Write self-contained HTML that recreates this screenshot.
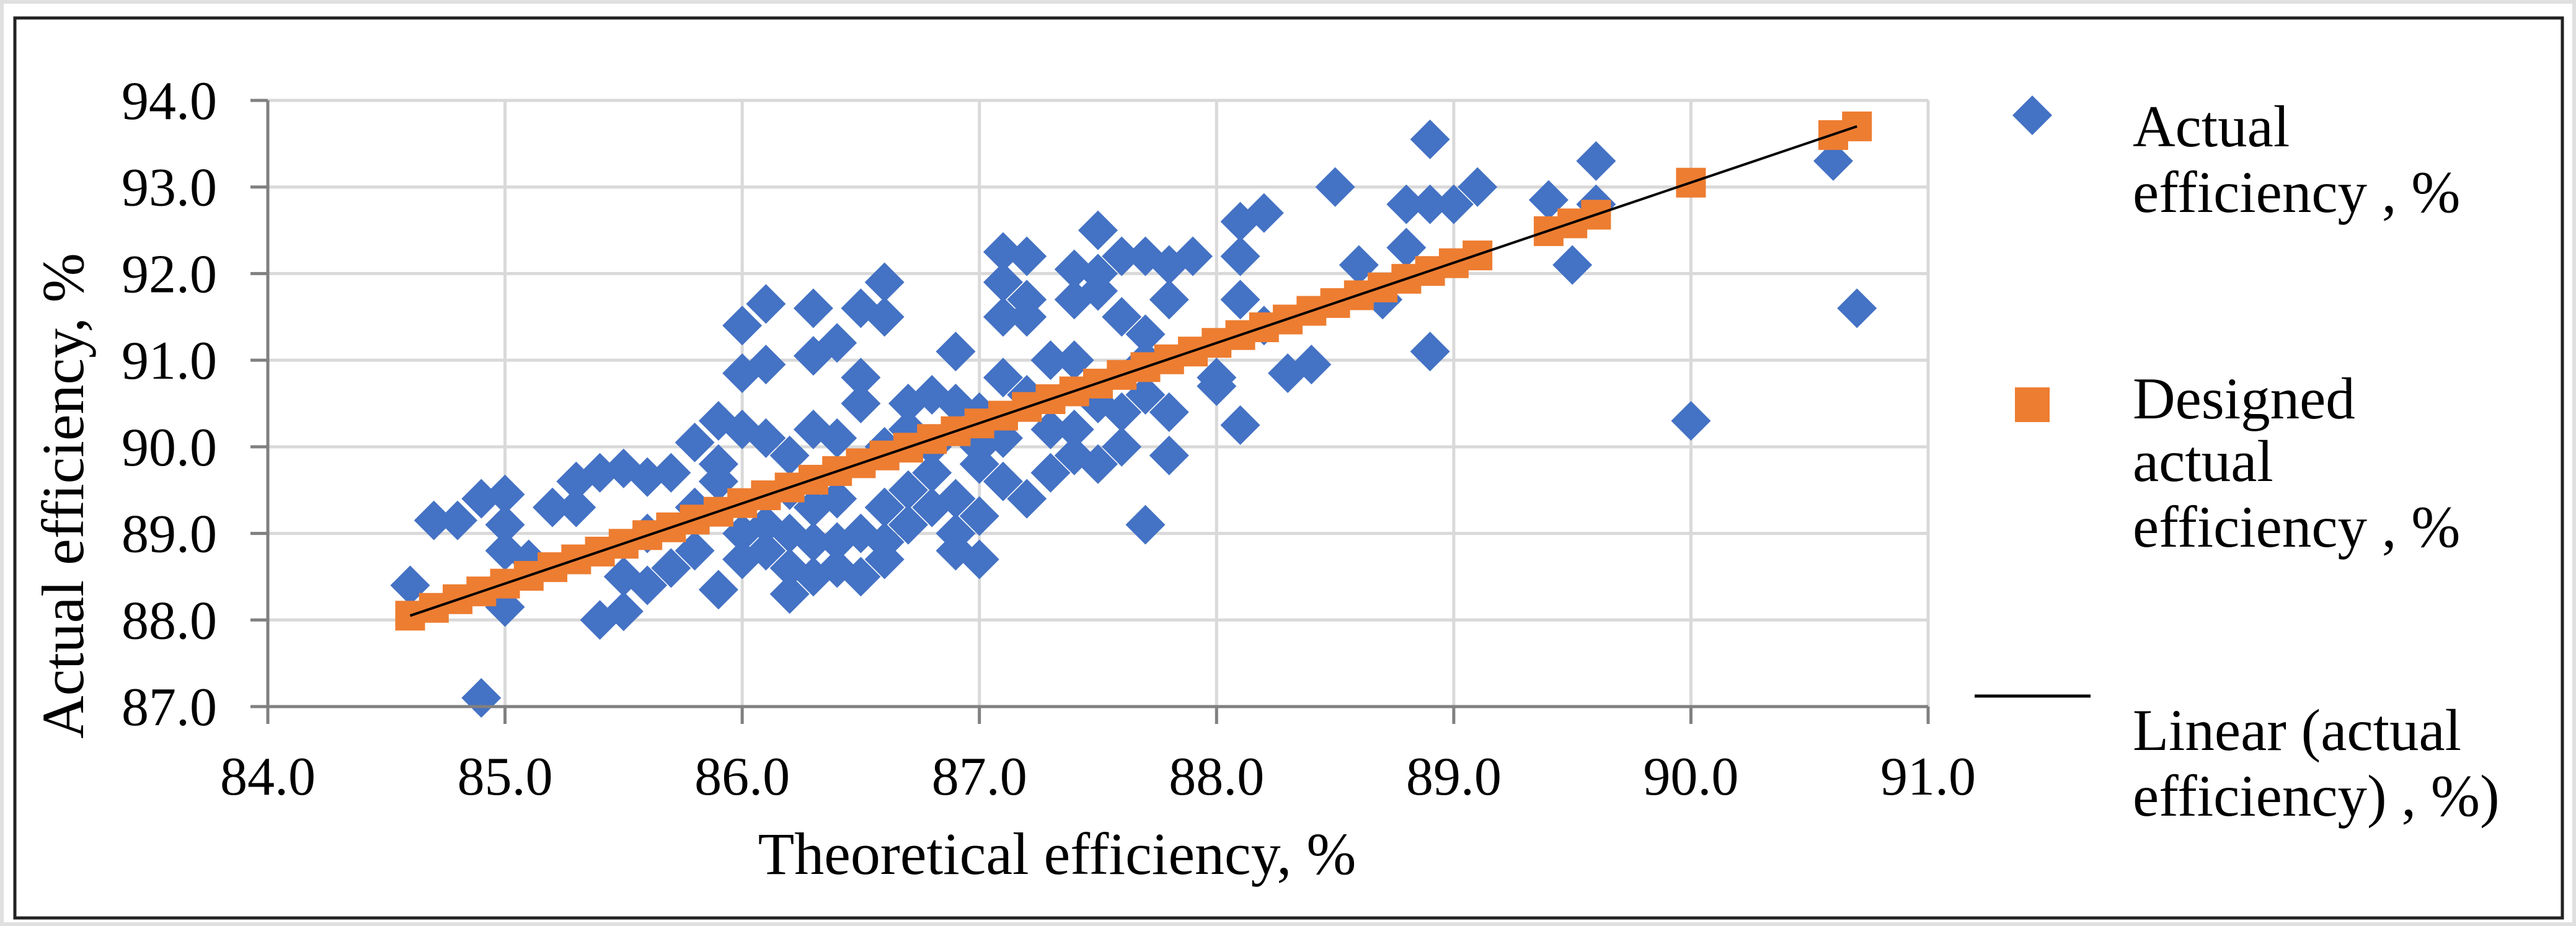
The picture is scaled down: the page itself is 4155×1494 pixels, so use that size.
<!DOCTYPE html>
<html><head><meta charset="utf-8"><style>
html,body{margin:0;padding:0;background:#fff;}
svg{display:block;font-family:"Liberation Serif",serif;}
</style></head><body>
<svg id="chart" width="4155" height="1494" viewBox="0 0 4155 1494">
<rect x="3" y="3" width="4149" height="1488" fill="#fff" stroke="#e0e0e0" stroke-width="6"/>
<rect x="24" y="29" width="4109" height="1452" fill="#fff" stroke="#222" stroke-width="5"/>
<g id="grid"></g>
<g id="marks"></g>
<g id="axes"></g>
<text x="1705" y="1410" font-size="96" text-anchor="middle">Theoretical efficiency, %</text>
<text transform="translate(134,800) rotate(-90)" font-size="96" text-anchor="middle">Actual efficiency, %</text>
<g>
<g>
<path d="M3278,154 L3310,186 L3278,218 L3246,186 Z" fill="#4472c4"/>
<text x="3440" y="236" font-size="95">Actual</text>
<text x="3440" y="342" font-size="95">efficiency , %</text>
</g>
<g>
<rect x="3250" y="625" width="56" height="56" fill="#ed7d31"/>
<text x="3440" y="675" font-size="95">Designed</text>
<text x="3440" y="776" font-size="95">actual</text>
<text x="3440" y="882" font-size="95">efficiency , %</text>
</g>
<g>
<line x1="3185" y1="1123" x2="3372" y2="1123" stroke="#000" stroke-width="5"/>
<text x="3440" y="1210" font-size="95">Linear (actual</text>
<text x="3440" y="1316" font-size="95">efficiency) , %)</text>
</g>
</g>
</svg>
<script>
const xTicks=[84,85,86,87,88,89,90,91];
const yTicks=[87,88,89,90,91,92,93,94];
const actualX=[84.6,84.7,84.8,84.9,84.9,85.0,85.0,85.0,85.0,85.1,85.2,85.3,85.3,85.4,85.4,85.5,85.5,85.5,85.6,85.6,85.7,85.7,85.8,85.8,85.9,85.9,85.9,86.0,86.0,86.0,86.0,86.0,86.1,86.1,86.1,86.1,86.2,86.2,86.2,86.3,86.3,86.3,86.3,86.3,86.4,86.4,86.4,86.4,86.5,86.5,86.5,86.5,86.5,86.6,86.6,86.6,86.6,86.6,86.7,86.7,86.8,86.8,86.9,86.9,86.9,86.9,87.0,87.0,87.0,87.0,87.1,87.1,87.1,87.1,87.1,87.1,87.2,87.2,87.2,87.2,87.2,87.3,87.3,87.4,87.4,87.4,87.4,87.5,87.5,87.5,87.5,87.5,87.6,87.6,87.6,87.7,87.7,87.7,87.7,87.8,87.8,87.8,87.8,87.9,88.0,88.0,88.1,88.1,88.1,88.1,88.2,88.2,88.3,88.4,88.5,88.6,88.7,88.8,88.8,88.9,88.9,88.9,89.0,89.1,89.4,89.5,89.6,89.6,90.0,90.6,90.7,85.6,85.8,86.1,86.2,86.3,86.4,86.6,86.7,86.8,86.9,87.0,86.8,86.2,85.9,86.7,87.3,87.4,87.6,87.7];
const actualY=[88.4,89.15,89.15,89.4,87.1,89.45,89.1,88.8,88.15,88.7,89.3,89.6,89.3,89.7,88.0,89.75,88.1,88.5,89.65,88.4,89.7,88.6,90.05,88.8,90.3,88.35,89.8,91.4,90.85,90.2,89.0,88.7,91.65,90.95,90.1,89.1,88.3,89.0,89.9,91.6,91.05,90.2,88.5,89.3,91.2,90.1,88.6,89.4,91.6,90.8,90.5,88.5,89.0,91.9,91.5,90.0,88.7,89.3,90.2,89.5,90.6,89.3,91.1,90.5,89.0,88.8,90.4,89.8,88.7,89.2,92.25,91.9,91.5,90.8,90.1,89.6,92.2,91.7,91.5,90.6,89.4,91.0,90.2,92.05,91.7,91.0,89.9,92.5,92.0,91.8,90.5,89.8,92.2,91.5,90.0,92.2,91.3,90.6,89.1,92.1,91.7,90.4,89.9,92.2,90.8,90.7,92.6,92.2,91.7,90.25,92.7,91.4,90.85,90.95,93.0,92.1,91.7,92.8,92.3,93.55,92.8,91.1,92.8,93.0,92.85,92.1,93.3,92.8,90.3,93.3,91.6,89.0,89.3,88.8,88.6,88.9,88.9,88.9,89.1,89.7,89.4,90.0,90.0,89.5,89.6,90.5,89.7,90.2,90.4,91.0];
const designedX=[84.6,84.7,84.8,84.9,85.0,85.1,85.2,85.3,85.4,85.5,85.6,85.7,85.8,85.9,86.0,86.1,86.2,86.3,86.4,86.5,86.6,86.7,86.8,86.9,87.0,87.1,87.2,87.3,87.4,87.5,87.6,87.7,87.8,87.9,88.0,88.1,88.2,88.3,88.4,88.5,88.6,88.7,88.8,88.9,89.0,89.1,89.4,89.5,89.6,90.0,90.6,90.7];
const designedY=[88.05,88.14,88.24,88.33,88.42,88.51,88.61,88.70,88.79,88.88,88.98,89.07,89.16,89.25,89.35,89.44,89.53,89.62,89.72,89.81,89.90,89.99,90.09,90.18,90.27,90.36,90.46,90.55,90.64,90.73,90.83,90.92,91.01,91.10,91.20,91.29,91.38,91.47,91.57,91.66,91.75,91.84,91.94,92.03,92.12,92.21,92.49,92.58,92.68,93.05,93.60,93.70];
const trendX=[84.6,90.7];
const trendY=[88.05,93.70];

const NS="http://www.w3.org/2000/svg";
const X0=432,X1=3110,Y0=1140,Y1=162;
const xs=v=>X0+(v-84)/(91-84)*(X1-X0);
const ys=v=>Y0-(v-87)/(94-87)*(Y0-Y1);
function mk(tag,attrs,parent){const e=document.createElementNS(NS,tag);for(const k in attrs)e.setAttribute(k,attrs[k]);parent.appendChild(e);return e;}
const grid=document.getElementById('grid'),marks=document.getElementById('marks'),axes=document.getElementById('axes');
xTicks.forEach(t=>{
  if(t>84){const l=mk('line',{x1:xs(t),x2:xs(t),y1:Y1,y2:Y0,stroke:'#d9d9d9','stroke-width':5},grid);
  
  }
  const tk=mk('line',{x1:xs(t),x2:xs(t),y1:Y0,y2:Y0+28,stroke:'#808080','stroke-width':5},axes);
  
  
  const tx=mk('text',{x:xs(t),y:1282,'font-size':88,'text-anchor':'middle'},axes);
  tx.textContent=t.toFixed(1);
  
  
});
yTicks.forEach(t=>{
  if(t>87){const l=mk('line',{x1:X0,x2:X1,y1:ys(t),y2:ys(t),stroke:'#d9d9d9','stroke-width':5},grid);
  
  }
  const tk=mk('line',{x1:X0-28,x2:X0,y1:ys(t),y2:ys(t),stroke:'#808080','stroke-width':5},axes);
  
  
  const tx=mk('text',{x:350,y:ys(t)+30,'font-size':88,'text-anchor':'end'},axes);
  tx.textContent=t.toFixed(1);
  
  
});
const xa=mk('line',{x1:X0,x2:X1,y1:Y0,y2:Y0,stroke:'#808080','stroke-width':5},axes);


const ya=mk('line',{x1:X0,x2:X0,y1:Y1,y2:Y0,stroke:'#808080','stroke-width':5},axes);


actualX.forEach((x,i)=>{
  const cx=xs(x),cy=ys(actualY[i]),r=32;
  const p=mk('path',{d:`M${cx},${cy-r} L${cx+r},${cy} L${cx},${cy+r} L${cx-r},${cy} Z`,fill:'#4472c4'},marks);
  
  
});
designedX.forEach((x,i)=>{
  const s=48;
  const r=mk('rect',{x:xs(x)-s/2,y:ys(designedY[i])-s/2,width:s,height:s,fill:'#ed7d31'},marks);
  
  
});
const tl=mk('line',{x1:xs(trendX[0]),y1:ys(trendY[0]),x2:xs(trendX[1]),y2:ys(trendY[1]),stroke:'#000','stroke-width':4},marks);


</script>
</body></html>
